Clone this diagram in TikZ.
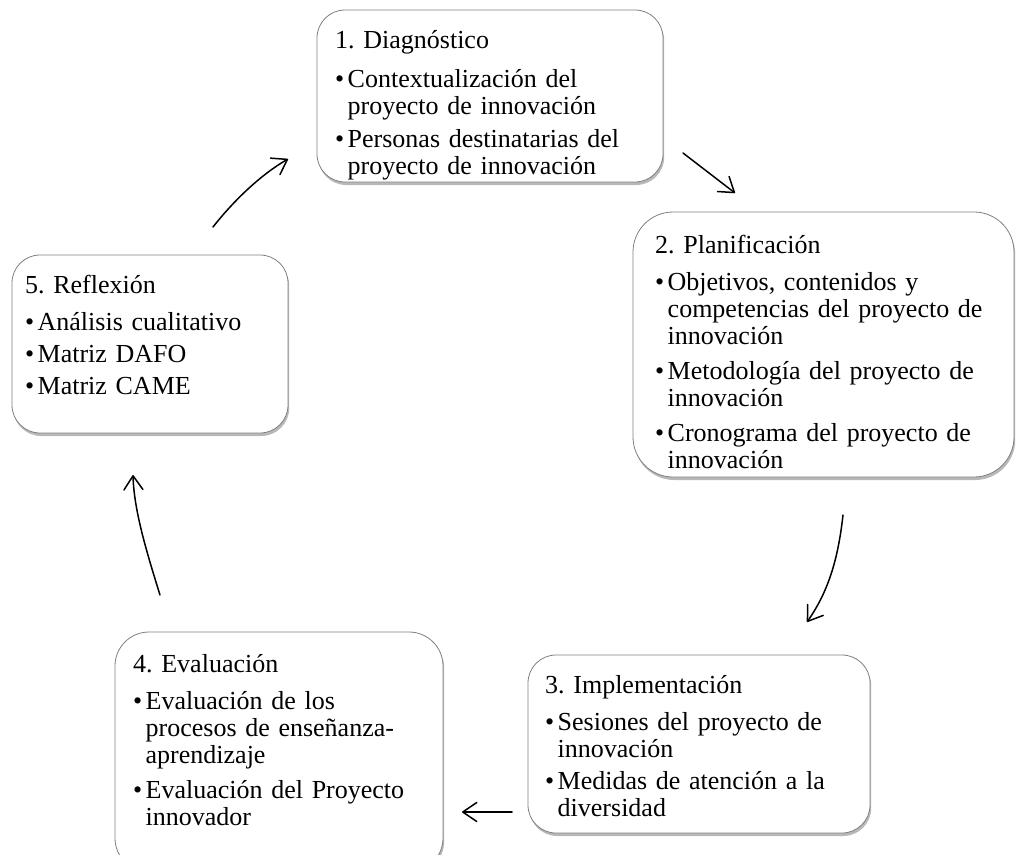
\documentclass[tikz,border=0pt]{standalone}
\usepackage{fontspec}
\setmainfont{Liberation Serif}
\usetikzlibrary{shadows,arrows.meta}
\frenchspacing
\newcommand\bitem[1]{\hangindent=12.5pt\hangafter=1\noindent\makebox[12.5pt][l]{\textbullet}#1\par}
\newcommand\tgap{\vspace{10pt}}
\newcommand\igap{\vspace{8pt}}
\newcommand\sgap{\vspace{5pt}}
\newcommand\boxfont{\fontsize{26}{27}\selectfont\frenchspacing\lineskiplimit=-50pt\relax\lineskip=0pt\relax}
\tikzset{
  box/.style={draw=black!50, line width=0.8pt, fill=white, inner sep=0pt, outer sep=0pt,
    drop shadow={shadow xshift=1.2pt, shadow yshift=-3pt, fill=black, opacity=0.28}},
  txt/.style={anchor=base west, inner sep=0pt, text width=420pt, align=left,
    font=\boxfont},
  arr/.style={line width=1.5pt, line cap=round, -{Straight Barb[length=14pt,width=19pt,line width=1.5pt,round]}}
}
\begin{document}
\begin{tikzpicture}[x=1pt,y=-1pt]
\clip (0,0) rectangle (1016,854);
\fill[white] (0,0) rectangle (1016,854);
% boxes
\node[box, rounded corners=28pt, minimum width=346pt, minimum height=172pt] (b1) at (490,96) {};
\node[box, rounded corners=40pt, minimum width=381pt, minimum height=265pt] (b2) at (823.5,344.5) {};
\node[box, rounded corners=28pt, minimum width=342pt, minimum height=178pt] (b3) at (699,744) {};
\node[box, rounded corners=34pt, minimum width=328pt, minimum height=240pt] (b4) at (279,752) {};
\node[box, rounded corners=28pt, minimum width=276pt, minimum height=178pt] (b5) at (150,344) {};
% texts
\node[txt] (t1) at (335,48) {1. Diagnóstico\par\vspace{12pt}
\bitem{Contextualización del\newline proyecto de innovación}\vspace{6pt}
\bitem{Personas destinatarias del\newline proyecto de innovación}};
\node[txt] (t2) at (655,253) {2. Planificación\par\tgap
\bitem{Objetivos, contenidos y\newline competencias del proyecto de\newline innovación}\igap
\bitem{Metodología del proyecto de\newline innovación}\igap
\bitem{Cronograma del proyecto de\newline innovación}};
\node[txt] (t3) at (545,693) {3. Implementación\par\tgap
\bitem{Sesiones del proyecto de\newline innovación}\sgap
\bitem{Medidas de atención a la\newline diversidad}};
\node[txt] (t4) at (133,672) {4. Evaluación\par\tgap
\bitem{Evaluación de los\newline procesos de enseñanza-\newline aprendizaje}\igap
\bitem{Evaluación del Proyecto\newline innovador}};
\node[txt] (t5) at (25,293) {5. Reflexión\par\tgap
\bitem{Análisis cualitativo}\sgap
\bitem{Matriz DAFO}\sgap
\bitem{Matriz CAME}};
% connector end points
\coordinate (a1s) at (683,153);
\coordinate (a1e) at (735,193);
\coordinate (a2s) at (843,515);
\coordinate (a2e) at (807,622);
\coordinate (a3s) at (512,812);
\coordinate (a3e) at (462,812);
\coordinate (a4s) at (160,595);
\coordinate (a4e) at (133,475);
\coordinate (a5s) at (213,227);
\coordinate (a5e) at (288,159);
% connectors
\draw[arr] (a1s) -- (a1e);
\draw[arr] (a2s) .. controls (838,560) and (828,592) .. (a2e);
\draw[arr] (a3s) -- (a3e);
\draw[arr] (a4s) .. controls (146,550) and (134,510) .. (a4e);
\draw[arr] (a5s) .. controls (235,199) and (262,174) .. (a5e);
\end{tikzpicture}
\end{document}
